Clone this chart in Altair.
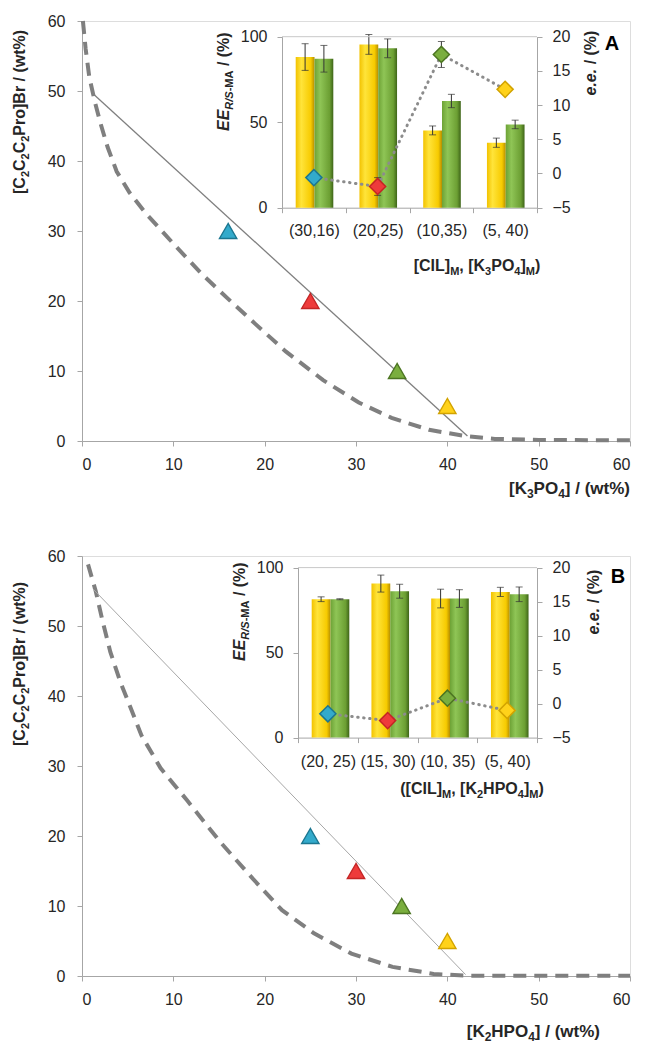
import altair as alt
import pandas as pd

# ---------------- Panel A data ----------------
A_CURVE_X = [0.1, 0.4, 0.8, 1.4, 2.0, 2.8, 3.8, 5.2, 7.0, 10.0, 13.0, 16.0, 19.0, 22.3, 26.4, 30.3, 33.9, 38.0, 42.0, 45.2, 50.0, 60.0]
A_CURVE_Y = [60, 56, 52, 48.5, 45.5, 42, 38.5, 35.5, 32.5, 28.2, 24.0, 20.3, 16.7, 12.8, 8.7, 5.5, 3.3, 1.6, 0.7, 0.3, 0.15, 0.1]
A_TIE_X = [1.3, 42.2]
A_TIE_Y = [49.5, 0.7]
A_MIX_X = [16, 25, 34.5, 40]
A_MIX_Y = [30, 20, 10, 5]
A_CATS = ["(30,16)", "(20,25)", "(10,35)", "(5, 40)"]
A_EE_Y = [88.1, 95.5, 45.2, 38.0]
A_EE_Y_ERR = [7.8, 5.8, 2.6, 2.7]
A_EE_G = [87.1, 93.2, 62.4, 48.7]
A_EE_G_ERR = [7.8, 5.5, 3.9, 2.5]
A_ee = [-0.6, -1.9, 17.4, 12.3]
A_ee_ERR = [0, 1.3, 1.9, 0]

# ---------------- Panel B data ----------------
B_CURVE_X = [0.66, 1.5, 2.2, 3.1, 4.2, 5.3, 6.5, 8.6, 11.5, 15.1, 18.7, 21.9, 25.4, 29.5, 34.0, 38.5, 42.0, 50.0, 60.0]
B_CURVE_Y = [58.8, 55.0, 51.0, 46.3, 42.0, 38.4, 34.4, 29.7, 25.1, 19.2, 13.9, 9.4, 6.1, 3.2, 1.3, 0.3, 0.05, 0.05, 0.05]
B_TIE_X = [1.2, 42.0]
B_TIE_Y = [55.3, 0.2]
B_MIX_X = [25, 30, 35, 40]
B_MIX_Y = [20, 15, 10, 5]
B_CATS = ["(20, 25)", "(15, 30)", "(10, 35)", "(5, 40)"]
B_EE_Y = [81.4, 90.6, 81.8, 85.7]
B_EE_Y_ERR = [1.4, 5.0, 5.5, 2.7]
B_EE_G = [81.4, 86.1, 81.8, 84.3]
B_EE_G_ERR = [0.3, 4.1, 5.2, 4.3]
B_ee = [-1.5, -2.5, 0.8, -1.0]
B_ee_ERR = [0, 0, 0, 0]

PTS = ["P1", "P2", "P3", "P4"]
FILLS = ["#33AACB", "#EE3B3B", "#7AAE3E", "#FFD21A"]
STROKES = ["#1B7690", "#C42525", "#4C7522", "#D2A300"]

FONT = "Liberation Sans"
TXT = "#262626"
AXC = "#A6A6A6"
W, H = 548, 420

GRAD_Y = alt.Gradient(gradient="linear", x1=0, x2=1, y1=0, y2=0,
                      stops=[alt.GradientStop(color="#F2C200", offset=0),
                             alt.GradientStop(color="#FFE43A", offset=0.3),
                             alt.GradientStop(color="#F7CB00", offset=0.8),
                             alt.GradientStop(color="#B58E00", offset=1)])
GRAD_G = alt.Gradient(gradient="linear", x1=0, x2=1, y1=0, y2=0,
                      stops=[alt.GradientStop(color="#6DA236", offset=0),
                             alt.GradientStop(color="#8FC556", offset=0.3),
                             alt.GradientStop(color="#6C9F33", offset=0.8),
                             alt.GradientStop(color="#3E6418", offset=1)])

# Arial / Liberation Sans bold advance widths (per 1000 em)
AB = {'[': 333, ']': 333, 'C': 722, 'I': 278, 'L': 611, 'M': 833, ',': 278, ' ': 278,
      'K': 722, 'P': 667, 'O': 778, 'H': 722, '(': 333, ')': 333, '/': 278, '%': 889,
      'E': 667, 'R': 722, 'S': 667, '-': 333, 'A': 722, 'e': 556, '.': 278, 'r': 389,
      'o': 611, 'B': 722, 'w': 778, 't': 333}


def tw(s, size):
    return sum(AB.get(c, 556) for c in s) * size / 1000.0


DUMMY = pd.DataFrame({"k": [0]})


def piece(t, size, style, x, y, angle=None):
    kw = dict(text=t, font=FONT, fontSize=size, fontWeight="bold", fontStyle=style,
              align="left", baseline="alphabetic", color=TXT)
    if angle is not None:
        kw["angle"] = angle
    return alt.Chart(DUMMY).mark_text(**kw).encode(x=alt.value(x), y=alt.value(y))


def rich_h(pieces, ax, by, anchor="center"):
    total = sum(tw(p[0], p[1]) for p in pieces)
    x = ax - total / 2 if anchor == "center" else ax - total
    out = []
    for t, sz, st, sh in pieces:
        if t.strip():
            out.append(piece(t, sz, st, x, by + sh))
        x += tw(t, sz)
    return out


def rich_v(pieces, bx, y0):
    y = y0
    out = []
    for t, sz, st, sh in pieces:
        if t.strip():
            out.append(piece(t, sz, st, bx + sh, y, angle=270))
        y -= tw(t, sz)
    return out


def panel(cx, cy, tx, ty, mx, my, cats, ey, eye, eg, ege, ee, eee,
          ix0, ix1, iy0, iy100, xo_range, tie_color, tie_w,
          ytitle_y0, xtitle_pieces, xtitle_right, xtitle_base,
          ititle_pieces, ititle_cx, ititle_base, ee_title_y0, ee_title_x,
          ee_y0, letter, letter_xy, cat_pad):
    xs = alt.Scale(domain=[0, 60], nice=False)
    ys = alt.Scale(domain=[0, 60], nice=False)
    xax = alt.Axis(values=list(range(0, 61, 10)), title="", grid=False, tickSize=5,
                   labelPadding=10, labelFontSize=16, labelFont=FONT, labelColor=TXT,
                   domainColor=AXC, tickColor=AXC, orient="bottom")
    yax = alt.Axis(values=list(range(0, 61, 10)), title="", grid=False, tickSize=5,
                   labelPadding=12, labelFontSize=16, labelFont=FONT, labelColor=TXT,
                   domainColor=AXC, tickColor=AXC, orient="left")
    X = alt.X("x:Q", scale=xs, axis=xax)
    Y = alt.Y("y:Q", scale=ys, axis=yax)
    fill = alt.Fill("pt:N", scale=alt.Scale(domain=PTS, range=FILLS), legend=None)
    stroke = alt.Stroke("pt:N", scale=alt.Scale(domain=PTS, range=STROKES), legend=None)

    curve = alt.Chart(pd.DataFrame({"x": cx, "y": cy})).mark_line(
        color="#7F7F7F", strokeWidth=4, strokeDash=[13, 8]).encode(x=X, y=Y)
    tie = alt.Chart(pd.DataFrame({"x": tx, "y": ty})).mark_line(
        color=tie_color, strokeWidth=tie_w).encode(x=X, y=Y)
    tri = alt.Chart(pd.DataFrame({"x": mx, "y": my, "pt": PTS})).mark_point(
        shape="triangle-up", filled=True, size=300, strokeWidth=1.4, opacity=1).encode(
        x=X, y=Y, fill=fill, stroke=stroke)
    main = alt.layer(curve, tie, tri)

    # ---- inset ----
    bx = alt.X("cat:N", scale=alt.Scale(domain=cats, range=[ix0, ix1], paddingInner=0, paddingOuter=0),
               sort=cats,
               axis=alt.Axis(orient="bottom", offset=-(H - iy0), title="", labelAngle=0,
                             labelFontSize=16, labelFont=FONT, labelColor=TXT, tickSize=5,
                             tickBand="extent", labelPadding=cat_pad, labelOverlap=False,
                             domainColor=AXC, tickColor=AXC, grid=False))
    xo = alt.XOffset("s:N", scale=alt.Scale(domain=["Y", "G"], range=xo_range,
                                            paddingInner=0, paddingOuter=0))
    lys = alt.Scale(domain=[0, 100], range=[iy0, iy100], nice=False, zero=False)
    lax = alt.Axis(orient="left", offset=-ix0, values=[0, 50, 100], title="", grid=False,
                   tickSize=5, labelPadding=10, labelFontSize=16, labelFont=FONT,
                   labelColor=TXT, domainColor=AXC, tickColor=AXC)
    bars_df = pd.DataFrame({"cat": cats + cats, "s": ["Y"] * 4 + ["G"] * 4,
                            "v": ey + eg, "e": eye + ege})
    base = alt.Chart(bars_df)
    ybar = base.mark_bar(color=GRAD_Y).encode(
        x=bx, xOffset=xo, y=alt.Y("v:Q", scale=lys, axis=lax)).transform_filter("datum.s == 'Y'")
    gbar = base.mark_bar(color=GRAD_G).encode(
        x=bx, xOffset=xo, y=alt.Y("v:Q", scale=lys, axis=lax)).transform_filter("datum.s == 'G'")
    calc = dict(lo="datum.v - datum.e", hi="datum.v + datum.e")
    err = base.mark_rule(color="#333333", strokeWidth=1).encode(
        x=bx, xOffset=xo, y=alt.Y("lo:Q", scale=lys, axis=lax), y2="hi:Q").transform_calculate(**calc)
    cap1 = base.mark_tick(color="#333333", thickness=1, size=7).encode(
        x=bx, xOffset=xo, y=alt.Y("lo:Q", scale=lys, axis=lax)).transform_calculate(**calc)
    cap2 = base.mark_tick(color="#333333", thickness=1, size=7).encode(
        x=bx, xOffset=xo, y=alt.Y("hi:Q", scale=lys, axis=lax)).transform_calculate(**calc)
    topline = alt.Chart(DUMMY).mark_rule(color="#C8C8C8", strokeWidth=1).encode(
        y=alt.Y(datum=100, type="quantitative", scale=lys, axis=lax),
        x=alt.value(ix0), x2=alt.value(ix1))
    bars = alt.layer(ybar, gbar, err, cap1, cap2, topline)

    rys = alt.Scale(domain=[-5, 20], range=[iy0, iy100], nice=False, zero=False)
    rax = alt.Axis(orient="right", offset=-(W - ix1), values=[-5, 0, 5, 10, 15, 20], title="",
                   grid=False, tickSize=5, labelPadding=10, labelFontSize=16, labelFont=FONT,
                   labelColor=TXT, domainColor=AXC, tickColor=AXC)
    ee_df = pd.DataFrame({"cat": cats, "ee": ee, "e": eee, "pt": PTS})
    eb = alt.Chart(ee_df)
    dline = eb.mark_line(color="#8C8C8C", strokeWidth=3, strokeDash=[0.5, 5.5], strokeCap="round").encode(
        x=bx, y=alt.Y("ee:Q", scale=rys, axis=rax))
    ecalc = dict(lo="datum.ee - datum.e", hi="datum.ee + datum.e")
    eerr = eb.mark_rule(color="#333333", strokeWidth=1).encode(
        x=bx, y=alt.Y("lo:Q", scale=rys, axis=rax), y2="hi:Q").transform_filter(
        "datum.e > 0").transform_calculate(**ecalc)
    ecap1 = eb.mark_tick(color="#333333", thickness=1, size=7).encode(
        x=bx, y=alt.Y("lo:Q", scale=rys, axis=rax)).transform_filter(
        "datum.e > 0").transform_calculate(**ecalc)
    ecap2 = eb.mark_tick(color="#333333", thickness=1, size=7).encode(
        x=bx, y=alt.Y("hi:Q", scale=rys, axis=rax)).transform_filter(
        "datum.e > 0").transform_calculate(**ecalc)
    dia = eb.mark_point(shape="diamond", filled=True, size=260, strokeWidth=1.5, opacity=1).encode(
        x=bx, y=alt.Y("ee:Q", scale=rys, axis=rax), fill=fill, stroke=stroke)
    eel = alt.layer(dline, eerr, ecap1, ecap2, dia)

    inset = alt.layer(bars, eel).resolve_scale(y="independent")

    texts = []
    # main y title
    texts += rich_v([("[C", 16, "normal", 0), ("2", 11, "normal", 4), ("C", 16, "normal", 0),
                     ("2", 11, "normal", 4), ("C", 16, "normal", 0), ("2", 11, "normal", 4),
                     ("Pro]Br / (wt%)", 16, "normal", 0)], -57, ytitle_y0)
    texts += rich_h(xtitle_pieces, xtitle_right, xtitle_base, anchor="right")
    texts += rich_h(ititle_pieces, ititle_cx, ititle_base)
    texts += rich_v([("EE", 16, "italic", 0), ("R/S", 11, "italic", 4), ("-MA", 11, "normal", 4),
                     (" ", 16, "normal", 0), ("/ (%)", 16, "normal", 0)], ix0 - 53, ee_y0)
    texts += rich_v([("e.e.", 16, "italic", 0), (" ", 16, "normal", 0), ("/ (%)", 16, "normal", 0)],
                    ee_title_x, ee_title_y0)
    texts.append(alt.Chart(DUMMY).mark_text(text=letter, font=FONT, fontSize=20, fontWeight="bold",
                                            color="#000000", align="center", baseline="middle").encode(
        x=alt.value(letter_xy[0]), y=alt.value(letter_xy[1])))

    return alt.layer(main, inset, *texts).resolve_scale(x="independent", y="independent").properties(
        width=W, height=H)


top = panel(A_CURVE_X, A_CURVE_Y, A_TIE_X, A_TIE_Y, A_MIX_X, A_MIX_Y, A_CATS,
            A_EE_Y, A_EE_Y_ERR, A_EE_G, A_EE_G_ERR, A_ee, A_ee_ERR,
            ix0=200, ix1=455, iy0=186.7, iy100=15.7, xo_range=[13.7, 51.3],
            tie_color="#7F7F7F", tie_w=1.3, ytitle_y0=173,
            xtitle_pieces=[("[K", 17, "normal", 0), ("3", 12, "normal", 4), ("PO", 17, "normal", 0),
                           ("4", 12, "normal", 4), ("] / (wt%)", 17, "normal", 0)],
            xtitle_right=548, xtitle_base=473,
            ititle_pieces=[("[CIL]", 16, "normal", 0), ("M", 11, "normal", 4), (",", 16, "normal", 0),
                           (" ", 16, "normal", 0), ("[K", 16, "normal", 0),
                           ("3", 11, "normal", 4), ("PO", 16, "normal", 0), ("4", 11, "normal", 4),
                           ("]", 16, "normal", 0), ("M", 11, "normal", 4), (")", 16, "normal", 0)],
            ititle_cx=395, ititle_base=250, ee_title_y0=74.5, ee_title_x=513.5,
            ee_y0=110, letter="A", letter_xy=(530, 23), cat_pad=10)

bottom = panel(B_CURVE_X, B_CURVE_Y, B_TIE_X, B_TIE_Y, B_MIX_X, B_MIX_Y, B_CATS,
               B_EE_Y, B_EE_Y_ERR, B_EE_G, B_EE_G_ERR, B_ee, B_ee_ERR,
               ix0=216, ix1=455, iy0=181.6, iy100=11.6, xo_range=[13.0, 47.7],
               tie_color="#A6A6A6", tie_w=1.0, ytitle_y0=190,
               xtitle_pieces=[("[K", 17, "normal", 0), ("2", 12, "normal", 4), ("HPO", 17, "normal", 0),
                              ("4", 12, "normal", 4), ("] / (wt%)", 17, "normal", 0)],
               xtitle_right=518, xtitle_base=481,
               ititle_pieces=[("([CIL]", 16, "normal", 0), ("M", 11, "normal", 4), (",", 16, "normal", 0),
                              (" ", 16, "normal", 0), ("[K", 16, "normal", 0),
                              ("2", 11, "normal", 4), ("HPO", 16, "normal", 0), ("4", 11, "normal", 4),
                              ("]", 16, "normal", 0), ("M", 11, "normal", 4), (")", 16, "normal", 0)],
               ititle_cx=390, ititle_base=238, ee_title_y0=78.5, ee_title_x=516.5,
               ee_y0=105, letter="B", letter_xy=(536, 21), cat_pad=11)

chart = alt.vconcat(top, bottom, spacing=46).properties(
    padding={"left": 11, "top": 12, "right": 2, "bottom": 2}
).configure_view(stroke="#D0D0D0", strokeWidth=1).configure(font=FONT)

chart.save("out.html", embed_options={"renderer": "svg", "actions": False})
